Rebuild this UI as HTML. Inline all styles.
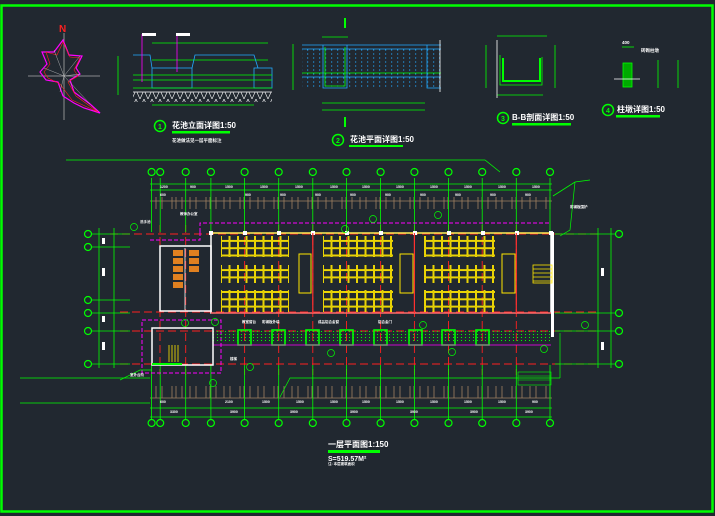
<!DOCTYPE html>
<html><head><meta charset="utf-8"><style>
html,body{margin:0;padding:0;background:#212830;}
svg{display:block}
text{font-family:"Liberation Sans","Noto Sans CJK SC",sans-serif;fill:#fff;font-weight:bold}
</style></head><body>
<svg width="715" height="516" viewBox="0 0 715 516" xmlns="http://www.w3.org/2000/svg">
<defs>
<pattern id="desk" width="8.5" height="7.3" patternUnits="userSpaceOnUse">
<rect x="0.5" y="0.5" width="7.5" height="6.3" fill="none" stroke="#ffe600" stroke-width="0.9"/>
</pattern>
<pattern id="dots" width="6" height="4" patternUnits="userSpaceOnUse">
<rect x="1" y="1.5" width="1.2" height="1" fill="#2af"/>
</pattern>
<pattern id="cdots" width="4" height="3" patternUnits="userSpaceOnUse">
<rect x="1" y="1" width="1" height="1" fill="#0f0"/>
</pattern>
<pattern id="hatch" width="8" height="9" patternUnits="userSpaceOnUse">
<path d="M0 0 L4 9 L8 0" fill="none" stroke="#fff" stroke-width="0.6"/>
</pattern>
<pattern id="tick" width="34" height="10" patternUnits="userSpaceOnUse">
<path d="M2 0V10M6 0V10M12 0V10M20 0V10M26 0V10" stroke="#a08060" stroke-width="0.8"/>
</pattern>
</defs>
<rect x="0" y="0" width="715" height="516" fill="#212830"/>
<rect x="1.5" y="5.5" width="711" height="506" fill="none" stroke="#00ff00" stroke-width="2.5"/>

<!-- compass -->
<line x1="28" y1="76" x2="100" y2="76" stroke="#aaa" stroke-width="0.8"/>
<line x1="64" y1="33" x2="64" y2="120" stroke="#aaa" stroke-width="0.8"/>
<polygon points="63,40 69,55 82,56 76,68 80,74 70,80 74,92 90,104 100,113 84,108 74,103 63,96 58,82 46,80 40,72 47,64 42,52 54,52" fill="none" stroke="#ff00ff" stroke-width="1.2"/>
<polygon points="63,42 70,57 80,58 74,70 78,76 68,82 76,96 98,112 72,100 60,84 48,78 44,72 50,64 46,52 57,55" fill="none" stroke="#ff2020" stroke-width="0.6"/>
<g stroke="#ccc" stroke-width="0.4"><line x1="64" y1="76" x2="54" y2="50"/><line x1="64" y1="76" x2="80" y2="56"/><line x1="64" y1="76" x2="44" y2="68"/><line x1="64" y1="76" x2="90" y2="104"/><line x1="64" y1="76" x2="60" y2="92"/><line x1="64" y1="76" x2="80" y2="74"/></g>
<text x="59" y="32" font-size="10" style="fill:#ff2020" font-weight="bold">N</text>

<!-- detail 1 -->
<g fill="none" stroke-width="0.8">
<line x1="152" y1="60" x2="268" y2="60" stroke="#0f0"/>
<line x1="152" y1="43" x2="268" y2="43" stroke="#0f0"/>
<rect x="152" y="68" width="40" height="20" stroke="#2af"/>
<rect x="254" y="68" width="18" height="20" stroke="#2af"/>
<path d="M133 55 H150 L152 68 M192 68 L195 55 H254 L258 68" stroke="#2af"/>
<line x1="133" y1="75" x2="272" y2="75" stroke="#0f0"/>
<line x1="133" y1="80" x2="272" y2="80" stroke="#0f0"/>
<line x1="133" y1="88" x2="272" y2="88" stroke="#0f0"/>
<rect x="133" y="92" width="139" height="10" fill="url(#hatch)" stroke="none"/>
<line x1="133" y1="92" x2="272" y2="92" stroke="#fff"/>
<line x1="152" y1="105" x2="254" y2="105" stroke="#0f0"/>
<path d="M142 34 V82 M177 34 V72" stroke="#f0f"/>
<line x1="118" y1="56" x2="118" y2="95" stroke="#0f0"/>
</g>
<rect x="142" y="33" width="14" height="3" fill="#fff"/>
<rect x="176" y="33" width="14" height="3" fill="#fff"/>
<circle cx="160" cy="126" r="5.5" fill="none" stroke="#0f0" stroke-width="1.5"/>
<text x="158" y="129" font-size="7" style="fill:#0f0">1</text>
<text x="172" y="128" font-size="8">花池立面详图1:50</text>
<rect x="172" y="131" width="58" height="2.5" fill="#0f0"/>
<text x="172" y="142" font-size="4.5">花池做法见一层平面标注</text>

<!-- detail 2 -->
<g fill="none" stroke-width="0.8">
<rect x="302" y="47" width="139" height="40" fill="url(#dots)" stroke="none"/>
<line x1="302" y1="45" x2="441" y2="45" stroke="#2af"/>
<line x1="302" y1="49" x2="441" y2="49" stroke="#2af"/>
<line x1="302" y1="73" x2="441" y2="73" stroke="#0f0"/>
<line x1="302" y1="77" x2="441" y2="77" stroke="#2af"/>
<path d="M323 45 V88 H347 V45 M427 45 V88 H441" stroke="#2af"/>
<path d="M325 47 V86 H345 V47" stroke="#0f0"/>
<line x1="322" y1="37" x2="348" y2="37" stroke="#0f0"/>
<line x1="322" y1="103" x2="425" y2="103" stroke="#0f0"/>
<line x1="322" y1="110" x2="425" y2="110" stroke="#0f0"/>
<line x1="293" y1="44" x2="293" y2="90" stroke="#0f0"/>
<line x1="440" y1="40" x2="440" y2="92" stroke="#fff"/>
</g>
<rect x="344" y="18" width="2" height="10" fill="#0f0"/>
<rect x="344" y="117" width="2" height="10" fill="#0f0"/>
<circle cx="338" cy="140" r="5.5" fill="none" stroke="#0f0" stroke-width="1.5"/>
<text x="336" y="143" font-size="7" style="fill:#0f0">2</text>
<text x="350" y="142" font-size="8">花池平面详图1:50</text>
<rect x="349" y="145" width="54" height="2" fill="#0f0"/>

<!-- detail 3 -->
<g fill="none" stroke-width="0.8" stroke="#0f0">
<line x1="497" y1="36" x2="547" y2="36" />
<line x1="497" y1="95" x2="543" y2="95"/>
<path d="M500 55 V85 H542 V57"/>
<path d="M503 58 V81 H540 V58" stroke-width="2"/>
<line x1="486" y1="45" x2="486" y2="88"/>
<line x1="555" y1="45" x2="555" y2="88"/>
<line x1="497" y1="40" x2="497" y2="98" stroke="#fff"/>
</g>
<circle cx="503" cy="118" r="5.5" fill="none" stroke="#0f0" stroke-width="1.5"/>
<text x="501" y="121" font-size="7" style="fill:#0f0">3</text>
<text x="512" y="120" font-size="8">B-B剖面详图1:50</text>
<rect x="512" y="123" width="59" height="2.5" fill="#0f0"/>

<!-- detail 4 -->
<g fill="none" stroke-width="0.8" stroke="#0f0">
<rect x="623" y="63" width="9" height="24" fill="#0a0"/>
<line x1="614" y1="79" x2="640" y2="79" stroke="#fff"/>
<line x1="658" y1="60" x2="658" y2="88"/>
<line x1="678" y1="60" x2="678" y2="88"/>
<line x1="622" y1="47" x2="634" y2="47"/>
</g>
<text x="622" y="44" font-size="4.5">400</text>
<text x="641" y="52" font-size="4.5">砖砌柱墩</text>
<circle cx="608" cy="110" r="5.5" fill="none" stroke="#0f0" stroke-width="1.5"/>
<text x="606" y="113" font-size="7" style="fill:#0f0">4</text>
<text x="617" y="112" font-size="8">柱墩详图1:50</text>
<rect x="616" y="115" width="44" height="2.5" fill="#0f0"/>

<!-- long line -->
<path d="M66 160 H485 L500 172" fill="none" stroke="#0f0" stroke-width="0.8"/>
<path d="M553 196 L575 182 L590 180" fill="none" stroke="#0f0" stroke-width="0.8"/>

<!-- red dashed axes -->
<g stroke="#ff2020" stroke-width="0.9" stroke-dasharray="8,4" fill="none">
<line x1="110" y1="234" x2="600" y2="234"/>
<line x1="120" y1="312" x2="600" y2="312"/>
<line x1="120" y1="331" x2="600" y2="331"/>
<line x1="120" y1="364" x2="600" y2="364"/>
<line x1="244.6" y1="225" x2="244.6" y2="375"/><line x1="278.7" y1="225" x2="278.7" y2="375"/>
<line x1="312.8" y1="225" x2="312.8" y2="375"/><line x1="346.5" y1="225" x2="346.5" y2="375"/>
<line x1="380.6" y1="225" x2="380.6" y2="375"/><line x1="414.4" y1="225" x2="414.4" y2="375"/>
<line x1="448.5" y1="225" x2="448.5" y2="375"/><line x1="482.2" y1="225" x2="482.2" y2="375"/>
<line x1="516.3" y1="225" x2="516.3" y2="375"/><line x1="160" y1="225" x2="160" y2="375"/>
<line x1="185.7" y1="225" x2="185.7" y2="375"/>
</g>

<!-- tick marks -->
<rect x="150" y="197" width="402" height="12" fill="url(#tick)"/>
<rect x="150" y="386" width="402" height="12" fill="url(#tick)"/>

<!-- top dims -->
<g stroke="#0f0" stroke-width="0.8" fill="none">
<line x1="150" y1="184" x2="552" y2="184"/>
<line x1="150" y1="190" x2="552" y2="190"/>
<line x1="150" y1="201" x2="552" y2="201" stroke="#a08060"/>
<line x1="150" y1="398" x2="552" y2="398" stroke="#a08060"/>
<line x1="150" y1="408" x2="552" y2="408"/>
<line x1="150" y1="417" x2="552" y2="417"/>
<g id="ax">
<line x1="151.6" y1="178" x2="151.6" y2="232"/><line x1="160.2" y1="178" x2="160.2" y2="232"/>
<line x1="185.7" y1="178" x2="185.7" y2="232"/><line x1="210.9" y1="178" x2="210.9" y2="232"/>
<line x1="244.6" y1="178" x2="244.6" y2="232"/><line x1="278.7" y1="178" x2="278.7" y2="232"/>
<line x1="312.8" y1="178" x2="312.8" y2="232"/><line x1="346.5" y1="178" x2="346.5" y2="232"/>
<line x1="380.6" y1="178" x2="380.6" y2="232"/><line x1="414.4" y1="178" x2="414.4" y2="232"/>
<line x1="448.5" y1="178" x2="448.5" y2="232"/><line x1="482.2" y1="178" x2="482.2" y2="232"/>
<line x1="516.3" y1="178" x2="516.3" y2="232"/><line x1="550" y1="178" x2="550" y2="232"/>
</g>
<use href="#ax" transform="translate(0,187)"/>
</g>
<g fill="#212830" stroke="#0f0" stroke-width="1.2">
<circle cx="151.6" cy="172" r="3.5"/><circle cx="160.2" cy="172" r="3.5"/><circle cx="185.7" cy="172" r="3.5"/><circle cx="210.9" cy="172" r="3.5"/><circle cx="244.6" cy="172" r="3.5"/><circle cx="278.7" cy="172" r="3.5"/><circle cx="312.8" cy="172" r="3.5"/><circle cx="346.5" cy="172" r="3.5"/><circle cx="380.6" cy="172" r="3.5"/><circle cx="414.4" cy="172" r="3.5"/><circle cx="448.5" cy="172" r="3.5"/><circle cx="482.2" cy="172" r="3.5"/><circle cx="516.3" cy="172" r="3.5"/><circle cx="550" cy="172" r="3.5"/>
<circle cx="151.6" cy="423" r="3.5"/><circle cx="160.2" cy="423" r="3.5"/><circle cx="185.7" cy="423" r="3.5"/><circle cx="210.9" cy="423" r="3.5"/><circle cx="244.6" cy="423" r="3.5"/><circle cx="278.7" cy="423" r="3.5"/><circle cx="312.8" cy="423" r="3.5"/><circle cx="346.5" cy="423" r="3.5"/><circle cx="380.6" cy="423" r="3.5"/><circle cx="414.4" cy="423" r="3.5"/><circle cx="448.5" cy="423" r="3.5"/><circle cx="482.2" cy="423" r="3.5"/><circle cx="516.3" cy="423" r="3.5"/><circle cx="550" cy="423" r="3.5"/>
<circle cx="88" cy="234" r="3.5"/><circle cx="88" cy="247" r="3.5"/><circle cx="88" cy="300" r="3.5"/><circle cx="88" cy="313" r="3.5"/><circle cx="88" cy="331" r="3.5"/><circle cx="88" cy="364" r="3.5"/>
<circle cx="619" cy="234" r="3.5"/><circle cx="619" cy="313" r="3.5"/><circle cx="619" cy="331" r="3.5"/><circle cx="619" cy="364" r="3.5"/>
</g>
<g font-size="3.5">
<text x="160" y="188">1200</text><text x="190" y="188">900</text><text x="225" y="188">1500</text><text x="260" y="188">1500</text><text x="295" y="188">1500</text><text x="330" y="188">1500</text><text x="362" y="188">1500</text><text x="396" y="188">1500</text><text x="430" y="188">1500</text><text x="464" y="188">1500</text><text x="498" y="188">1500</text><text x="532" y="188">1500</text>
<text x="160" y="196">600</text><text x="245" y="196">900</text><text x="280" y="196">900</text><text x="315" y="196">900</text><text x="350" y="196">900</text><text x="385" y="196">900</text><text x="420" y="196">900</text><text x="455" y="196">900</text><text x="490" y="196">900</text><text x="525" y="196">900</text>
<text x="160" y="403">600</text><text x="225" y="403">2100</text><text x="262" y="403">1500</text><text x="296" y="403">1500</text><text x="330" y="403">1500</text><text x="362" y="403">1500</text><text x="396" y="403">1500</text><text x="430" y="403">1500</text><text x="464" y="403">1500</text><text x="498" y="403">1500</text><text x="532" y="403">900</text>
<text x="170" y="413">3300</text><text x="230" y="413">3900</text><text x="290" y="413">3900</text><text x="350" y="413">3900</text><text x="410" y="413">3900</text><text x="470" y="413">3900</text><text x="525" y="413">3900</text>
</g>

<!-- left/right dims -->
<g stroke="#0f0" stroke-width="0.8" fill="none">
<line x1="99" y1="228" x2="99" y2="368"/><line x1="114" y1="228" x2="114" y2="368"/>
<line x1="92" y1="234" x2="130" y2="234"/><line x1="92" y1="247" x2="130" y2="247"/><line x1="92" y1="300" x2="130" y2="300"/><line x1="92" y1="313" x2="130" y2="313"/><line x1="92" y1="331" x2="130" y2="331"/><line x1="92" y1="364" x2="130" y2="364"/>
<line x1="598" y1="228" x2="598" y2="368"/><line x1="611" y1="228" x2="611" y2="368"/>
<line x1="555" y1="234" x2="615" y2="234"/><line x1="555" y1="313" x2="615" y2="313"/><line x1="555" y1="331" x2="615" y2="331"/><line x1="555" y1="364" x2="615" y2="364"/>
<line x1="20" y1="378" x2="150" y2="378"/>
<line x1="20" y1="403" x2="150" y2="403"/>
</g>
<g fill="#fff"><rect x="102" y="238" width="3" height="6"/><rect x="102" y="268" width="3" height="8"/><rect x="102" y="316" width="3" height="6"/><rect x="102" y="342" width="3" height="8"/><rect x="601" y="268" width="3" height="8"/><rect x="601" y="342" width="3" height="8"/></g>

<!-- magenta dashed outline -->
<g stroke="#ff00ff" stroke-width="1" stroke-dasharray="4,2" fill="none">
<path d="M200 232 V223 H551"/>
<rect x="142" y="320" width="79" height="53"/>
<path d="M150 240 H200 V232"/>
</g>

<!-- main hall -->
<rect x="211" y="233" width="340" height="80" fill="none" stroke="#fff" stroke-width="1.5"/>
<line x1="211" y1="233" x2="551" y2="233" stroke="#ffe600" stroke-width="1"/>
<line x1="211" y1="313" x2="551" y2="313" stroke="#ff2020" stroke-width="1"/>
<g fill="#fff"><rect x="209" y="231" width="4" height="4"/><rect x="243" y="231" width="4" height="4"/><rect x="277" y="231" width="4" height="4"/><rect x="311" y="231" width="4" height="4"/><rect x="345" y="231" width="4" height="4"/><rect x="379" y="231" width="4" height="4"/><rect x="413" y="231" width="4" height="4"/><rect x="447" y="231" width="4" height="4"/><rect x="481" y="231" width="4" height="4"/><rect x="515" y="231" width="4" height="4"/><rect x="549" y="231" width="4" height="4"/></g>
<g stroke="#ff3030" stroke-width="1.2"><line x1="312.8" y1="233" x2="312.8" y2="313"/><line x1="414.4" y1="233" x2="414.4" y2="313"/><line x1="516.3" y1="233" x2="516.3" y2="313"/></g>
<!-- desks -->
<rect x="221" y="236" width="68" height="21" fill="url(#desk)"/>
<rect x="221" y="265" width="68" height="18" fill="url(#desk)"/>
<rect x="221" y="290" width="68" height="22" fill="url(#desk)"/>
<rect x="323" y="236" width="70" height="21" fill="url(#desk)"/>
<rect x="323" y="265" width="70" height="18" fill="url(#desk)"/>
<rect x="323" y="290" width="70" height="22" fill="url(#desk)"/>
<rect x="424" y="236" width="71" height="21" fill="url(#desk)"/>
<rect x="424" y="265" width="71" height="18" fill="url(#desk)"/>
<rect x="424" y="290" width="71" height="22" fill="url(#desk)"/>
<g fill="none" stroke="#ffe600" stroke-width="1"><rect x="299" y="254" width="12" height="39"/><rect x="400" y="254" width="13" height="39"/><rect x="502" y="254" width="13" height="39"/></g>
<!-- corridor -->
<rect x="213" y="331" width="338" height="12" fill="url(#cdots)"/>
<g fill="none" stroke="#0f0" stroke-width="1.6"><rect x="238" y="330" width="13" height="15"/><rect x="272" y="330" width="13" height="15"/><rect x="306" y="330" width="13" height="15"/><rect x="340" y="330" width="13" height="15"/><rect x="374" y="330" width="13" height="15"/><rect x="409" y="330" width="13" height="15"/><rect x="442" y="330" width="13" height="15"/><rect x="476" y="330" width="13" height="15"/></g>
<line x1="213" y1="345" x2="551" y2="345" stroke="#f0f" stroke-width="0.8"/>
<rect x="551" y="232" width="3" height="105" fill="#fff"/>
<!-- right stair -->
<g fill="none" stroke="#ffe600" stroke-width="0.8"><rect x="533" y="265" width="19" height="18"/><path d="M533 269H552M533 273H552M533 277H552M533 281H552"/></g>
<rect x="518" y="372" width="33" height="13" fill="none" stroke="#0f0" stroke-width="0.6"/>
<path d="M518 376H551M518 380H551" stroke="#0f0" stroke-width="0.6"/>
<!-- left toilet block -->
<rect x="160" y="246" width="51" height="65" fill="none" stroke="#fff" stroke-width="1.5"/>
<line x1="185" y1="248" x2="185" y2="310" stroke="#fff" stroke-width="0.8"/>
<g fill="#e08020"><rect x="173" y="250" width="10" height="6"/><rect x="173" y="258" width="10" height="6"/><rect x="173" y="266" width="10" height="6"/><rect x="189" y="250" width="10" height="6"/><rect x="189" y="258" width="10" height="6"/><rect x="189" y="266" width="10" height="6"/><rect x="173" y="274" width="10" height="6"/><rect x="173" y="282" width="10" height="6"/></g>
<rect x="152" y="328" width="61" height="37" fill="none" stroke="#fff" stroke-width="1.5"/>
<g stroke="#ffe600" stroke-width="0.8"><line x1="169" y1="345" x2="169" y2="362"/><line x1="172" y1="345" x2="172" y2="362"/><line x1="175" y1="345" x2="175" y2="362"/><line x1="178" y1="345" x2="178" y2="362"/></g>
<rect x="152" y="363" width="30" height="2" fill="#0f0"/>

<!-- green leaders and labels -->
<g stroke="#0f0" stroke-width="0.7" fill="none">
<circle cx="134" cy="227" r="3.5"/><circle cx="373" cy="219" r="3.5"/><circle cx="438" cy="215" r="3.5"/><circle cx="345" cy="229" r="3.5"/>
<circle cx="185" cy="323" r="3.5"/><circle cx="215" cy="322" r="3.5"/><circle cx="331" cy="353" r="3.5"/><circle cx="452" cy="352" r="3.5"/><circle cx="544" cy="349" r="3.5"/><circle cx="585" cy="325" r="3.5"/>
<circle cx="213" cy="383" r="3.5"/><circle cx="250" cy="367" r="3.5"/><circle cx="423" cy="325" r="3.5"/>
<path d="M280 397 L290 378 L560 378"/><path d="M560 378 V333"/>
<path d="M575 182 L570 230 L560 236"/>
<path d="M120 380 L140 370 L152 370"/>
</g>
<g font-size="3.5">
<text x="180" y="215">教师办公室</text><text x="140" y="223">洗手池</text><text x="242" y="323">教室窗台</text><text x="262" y="323">彩钢板外墙</text><text x="318" y="323">成品铝合金窗</text><text x="378" y="323">铝合金门</text>
<text x="570" y="208">彩钢板围护</text><text x="130" y="376">室外台阶</text><text x="230" y="360">楼梯</text>
</g>

<!-- title -->
<text x="328" y="447" font-size="8">一层平面图1:150</text>
<rect x="328" y="450" width="52" height="3" fill="#0f0"/>
<text x="328" y="461" font-size="7">S=519.57M²</text>
<text x="328" y="465" font-size="3.5">注: 本层建筑面积</text>
</svg>
</body></html>
